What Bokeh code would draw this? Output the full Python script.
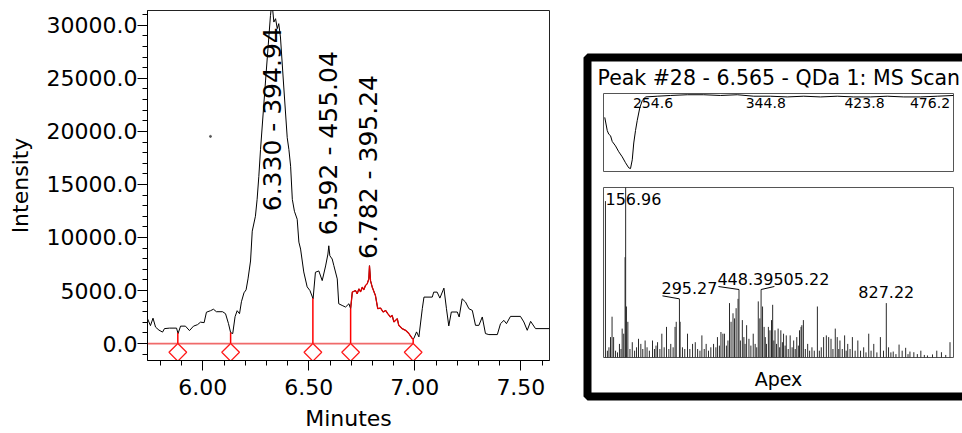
import math
import numpy as np
from bokeh.plotting import figure
from bokeh.models import Range1d, FixedTicker, NumeralTickFormatter, Label
from bokeh.embed import file_html
from bokeh.resources import INLINE
from bokeh.core.properties import value

FONT = "DejaVu Sans"

# ---------------- chromatogram data ----------------
time_min = [5.739, 5.753, 5.765, 5.777, 5.793, 5.810, 5.819, 5.843, 5.876, 5.883,
            5.895, 5.918, 5.937, 5.956, 5.975, 5.989, 6.006, 6.017, 6.036, 6.050,
            6.064, 6.093, 6.107, 6.121, 6.131, 6.141, 6.152, 6.162, 6.173, 6.182,
            6.194, 6.204, 6.213, 6.225, 6.233, 6.248, 6.256, 6.264, 6.272, 6.296,
            6.319, 6.326, 6.335, 6.343, 6.351, 6.358, 6.366, 6.382, 6.398, 6.406,
            6.414, 6.422, 6.432, 6.445, 6.453, 6.461, 6.476, 6.492, 6.505, 6.520,
            6.531, 6.547, 6.563, 6.579, 6.590, 6.594, 6.599, 6.610, 6.618, 6.634,
            6.641, 6.657, 6.673, 6.689, 6.697, 6.705, 6.720, 6.728, 6.736, 6.744,
            6.752, 6.759, 6.767, 6.775, 6.783, 6.786, 6.791, 6.799, 6.814, 6.825,
            6.838, 6.851, 6.862, 6.872, 6.885, 6.893, 6.901, 6.917, 6.924, 6.940,
            6.956, 6.972, 6.988, 6.995, 7.008, 7.019, 7.035, 7.043, 7.082, 7.089,
            7.105, 7.118, 7.137, 7.149, 7.160, 7.172, 7.200, 7.209, 7.223, 7.239,
            7.255, 7.271, 7.286, 7.302, 7.318, 7.333, 7.349, 7.389, 7.404, 7.420,
            7.432, 7.451, 7.498, 7.514, 7.530, 7.546, 7.569, 7.635]
intensity = [2344, 1688, 2391, 1547, 1266, 1078, 1406, 1453, 1453, 938,
             1641, 1641, 1219, 1641, 1781, 2016, 1969, 2953, 3094, 3234,
             3000, 3000, 2813, 1875, 1031, 938, 2531, 3094, 2813, 3938,
             4781, 5063, 6094, 7781, 10594, 12000, 13594, 15750, 18281, 24844,
             30938, 32200, 30309, 30628, 29691, 30159, 28903, 24094, 19406, 18281,
             16716, 13594, 12469, 11719, 9563, 8906, 6750, 5344, 4997, 4219,
             6722, 6844, 5934, 7313, 8438, 9216, 8278, 7969, 7341, 6094,
             3750, 3591, 3441, 3750, 3281, 4847, 4997, 4688, 5156, 4875,
             5316, 5063, 5466, 5625, 6094, 7341, 5906, 5316, 4528, 3281,
             3347, 2972, 3122, 2813, 2503, 2653, 2034, 2344, 1716, 1406,
             1247, 938, 469, 469, 1097, 628, 3281, 4378, 4378, 4847,
             4847, 4284, 5222, 3281, 1659, 2972, 2972, 2503, 4219, 3909,
             3281, 3122, 1716, 1716, 2503, 938, 844, 844, 1875, 2184,
             1875, 2559, 2559, 2034, 1247, 2091, 1406, 1406]
stray_time = [6.036]
stray_intensity = [19530]

boundary_time = [5.882, 6.131, 6.519, 6.697, 6.992]
selected_peak = [6.697, 6.992]
peak_time = [6.330, 6.592, 6.782]
peak_mz = ["394.94", "455.04", "395.24"]
peak_label_base = [12470, 10220, 7970]

x_major = [6.00, 6.50, 7.00, 7.50]
x_minor = [5.8, 5.9, 6.1, 6.2, 6.3, 6.4, 6.6, 6.7, 6.8, 6.9, 7.1, 7.2, 7.3, 7.4, 7.6]
y_major = [0, 5000, 10000, 15000, 20000, 25000, 30000]
y_minor = [-1000] + [v for v in range(1000, 31001, 1000) if v % 5000]
x_limits = [5.739, 7.635]
y_limits = [-1600, 31400]

# ---------------- spectrum panel data ----------------
panel_title = "Peak #28 - 6.565 - QDa 1: MS Scan"
uv_nm = [216.0, 218.0, 219.2, 220.6, 222.0, 224.6, 227.2, 230.0, 232.6, 235.2,
         236.6, 238.0, 239.2, 240.6, 242.0, 244.0, 246.0, 248.6, 258.0, 268.6,
         282.0, 295.2, 308.6, 322.0, 335.2, 348.6, 362.0, 375.2, 388.6, 402.0,
         415.2, 428.6, 442.0, 455.2, 468.6, 482.0, 494.8]
uv_abs = [-0.30, -0.48, -0.53, -0.55, -0.63, -0.69, -0.77, -0.84, -0.92, -0.99,
          -1.0, -0.88, -0.65, -0.48, -0.34, -0.17, -0.07, -0.02, -0.01, 0.0,
          0.01, 0.01, 0.0, 0.01, -0.01, -0.01, -0.02, -0.01, -0.02, -0.01,
          -0.02, -0.02, -0.01, -0.02, -0.02, -0.01, 0.0]
uv_labels = ["254.6", "344.8", "423.8", "476.2"]
uv_limits_nm = [215, 495]
uv_limits_abs = [-1.04, 0.027]

ms_mz = [105, 110, 114, 118, 122, 126, 131, 136, 141, 145,
         148, 152, 155.5, 156.96, 159, 162.6, 168, 174, 180, 185,
         190, 196, 201, 207, 212, 218, 226, 231, 235, 239,
         245, 250, 256, 262, 268, 273, 279, 284, 287, 295.27,
         297, 303, 309, 316, 322, 329, 336, 342, 348, 353,
         359, 364, 370, 376, 383, 389, 393, 398, 402, 407,
         411, 416, 420, 424, 428, 433, 437, 441, 446, 448.39,
         452, 457, 461, 464, 468, 474, 479, 485, 490, 494,
         498, 502, 505.22, 509, 513, 516, 519, 524, 528, 532,
         535, 538, 541, 545, 549, 553, 556, 560, 563, 567,
         570, 575, 580, 585, 589, 593, 597, 601, 604, 608,
         610, 614, 619, 625, 630, 636, 642, 650, 655, 660,
         666, 673, 679, 685, 690, 696, 701, 705, 708, 714,
         720, 724, 728, 734, 740, 747, 754, 761, 769, 775,
         782, 788, 795, 803, 812, 820, 827.22, 833, 839, 845,
         852, 860, 868, 877, 883, 888, 898, 907, 916, 925,
         933, 946, 957, 969, 980, 991]
ms_rel = [0.92, 0.04, 0.06, 0.12, 0.24, 0.12, 0.04, 0.03, 0.08, 0.05,
          0.17, 0.14, 0.59, 1.0, 0.30, 0.21, 0.05, 0.09, 0.04, 0.06,
          0.11, 0.08, 0.05, 0.10, 0.06, 0.04, 0.10, 0.05, 0.07, 0.09,
          0.05, 0.14, 0.06, 0.18, 0.05, 0.08, 0.06, 0.18, 0.21, 0.345,
          0.21, 0.06, 0.05, 0.14, 0.05, 0.08, 0.09, 0.05, 0.04, 0.13,
          0.05, 0.08, 0.04, 0.06, 0.08, 0.06, 0.12, 0.07, 0.15, 0.14,
          0.14, 0.07, 0.10, 0.32, 0.21, 0.26, 0.23, 0.29, 0.345, 0.40,
          0.10, 0.22, 0.12, 0.08, 0.19, 0.11, 0.07, 0.14, 0.08, 0.06,
          0.33, 0.23, 0.40, 0.30, 0.18, 0.12, 0.08, 0.18, 0.16, 0.22,
          0.31, 0.10, 0.16, 0.08, 0.17, 0.06, 0.16, 0.09, 0.14, 0.07,
          0.13, 0.05, 0.13, 0.06, 0.10, 0.05, 0.12, 0.07, 0.16, 0.18,
          0.19, 0.22, 0.05, 0.08, 0.04, 0.06, 0.04, 0.30, 0.04, 0.06,
          0.12, 0.13, 0.12, 0.11, 0.05, 0.17, 0.12, 0.05, 0.10, 0.05,
          0.13, 0.04, 0.08, 0.05, 0.12, 0.04, 0.10, 0.04, 0.06, 0.03,
          0.14, 0.04, 0.08, 0.03, 0.12, 0.04, 0.32, 0.06, 0.03, 0.035,
          0.02, 0.076, 0.04, 0.057, 0.02, 0.035, 0.031, 0.02, 0.04, 0.015,
          0.012, 0.018, 0.04, 0.031, 0.015, 0.09]
ms_labels = [156.96, 295.27, 448.39, 505.22, 827.22]
ms_limits_mz = [100, 1000]
ms_limits_rel = [0, 1]

# ---------------- layout constants (pixels) ----------------
W, H = 962, 433
LEFT_W = 575
PANEL_X0 = LEFT_W
BOX_L, BOX_R = 603, 953
UV_TOP, UV_BOT = 93, 171
MS_TOP, MS_BOT = 187, 357

# ================= main chromatogram =================
p = figure(width=LEFT_W, height=H, x_range=Range1d(*x_limits), y_range=Range1d(*y_limits),
           output_backend="svg", toolbar_location=None,
           min_border_left=147, min_border_right=26, min_border_top=10, min_border_bottom=71)
p.styles = {"position": "absolute", "left": "0px", "top": "0px"}
p.xgrid.visible = False
p.ygrid.visible = False
p.outline_line_color = "#222222"
p.outline_line_width = 1
p.border_fill_color = "white"
p.background_fill_color = "white"

for ax in (p.xaxis[0], p.yaxis[0]):
    ax.major_tick_out = 10
    ax.major_tick_in = 0
    ax.minor_tick_out = 5
    ax.minor_tick_in = 0
    ax.axis_line_color = "black"
    ax.major_tick_line_color = "black"
    ax.minor_tick_line_color = "black"
    ax.major_label_text_font = FONT
    ax.major_label_text_font_size = "22px"
    ax.major_label_text_color = "black"
    ax.axis_label_text_font = FONT
    ax.axis_label_text_font_size = "22px"
    ax.axis_label_text_font_style = "normal"
    ax.axis_label_text_color = "black"

p.xaxis.ticker = FixedTicker(ticks=x_major, minor_ticks=x_minor)
p.yaxis.ticker = FixedTicker(ticks=y_major, minor_ticks=y_minor)
p.xaxis.formatter = NumeralTickFormatter(format="0.00")
p.yaxis.formatter = NumeralTickFormatter(format="0.0")
p.xaxis.axis_label = "Minutes"
p.yaxis.axis_label = "Intensity"
p.xaxis.major_label_standoff = 8
p.xaxis.axis_label_standoff = 8
p.yaxis.major_label_standoff = 0
p.yaxis.axis_label_standoff = 11

t_arr = np.array(time_min, dtype=float)
i_arr = np.array(intensity, dtype=float)

# baseline of integration
p.line([x_limits[0], boundary_time[-1]], [0, 0], line_color="#f06a6a", line_width=1.8)

# trace
p.line(time_min, intensity, line_color="black", line_width=1)
p.scatter(stray_time, stray_intensity, size=2, color="#555555")

# selected (integrated) peak in red
lo, hi = selected_peak
mask = (t_arr > lo) & (t_arr < hi)
red_t = [lo] + list(t_arr[mask]) + [hi]
red_i = [float(np.interp(lo, t_arr, i_arr))] + list(i_arr[mask]) + [float(np.interp(hi, t_arr, i_arr))]
p.line(red_t, red_i, line_color="#e00000", line_width=1.3)

# peak boundaries
b_heights = np.interp(boundary_time, t_arr, i_arr)
p.segment(x0=boundary_time, y0=[0] * len(boundary_time), x1=boundary_time, y1=list(b_heights),
          line_color="#ff0000", line_width=1.5)
frame_h = H - 10 - 71
y_per_px = (y_limits[1] - y_limits[0]) / frame_h
marker_y = -8.8 * y_per_px
p.scatter(boundary_time, [marker_y] * len(boundary_time), marker="square", angle=math.pi / 4,
          size=12.5, line_color="#ff1a1a", fill_color="white", line_width=1.3)

# peak labels
p.text(x=peak_time, y=peak_label_base,
       text=[f"{t:.3f} - {m}" for t, m in zip(peak_time, peak_mz)],
       angle=math.pi / 2, text_align="left", text_baseline="middle",
       text_font=value(FONT), text_font_size="25px", text_color="black")

# ================= spectrum panel =================
rp = figure(width=W - LEFT_W, height=H, x_range=Range1d(PANEL_X0, W), y_range=Range1d(H, 0),
            output_backend="svg", toolbar_location=None, min_border=0,
            x_axis_type=None, y_axis_type=None)
rp.styles = {"position": "absolute", "left": f"{LEFT_W}px", "top": "0px"}
rp.outline_line_color = None
rp.border_fill_color = "white"
rp.background_fill_color = "white"


def lin_range(px0, px1, d0, d1, f_start, f_end):
    k = (d1 - d0) / (px1 - px0)
    return Range1d(start=d0 + (f_start - px0) * k, end=d0 + (f_end - px0) * k)


rp.extra_x_ranges = {
    "nm": lin_range(BOX_L, BOX_R, uv_limits_nm[0], uv_limits_nm[1], PANEL_X0, W),
    "mz": lin_range(BOX_L, BOX_R, ms_limits_mz[0], ms_limits_mz[1], PANEL_X0, W),
}
rp.extra_y_ranges = {
    "uv": lin_range(UV_BOT, UV_TOP, uv_limits_abs[0], uv_limits_abs[1], H, 0),
    "ms": lin_range(MS_BOT, MS_TOP, ms_limits_rel[0], ms_limits_rel[1], H, 0),
}

# thick black frame
rp.quad(left=[587], right=[1000], top=[57], bottom=[396], fill_color=None,
        line_color="black", line_width=8)
# inner boxes
rp.quad(left=[BOX_L, BOX_L], right=[BOX_R, BOX_R], top=[UV_TOP, MS_TOP], bottom=[UV_BOT, MS_BOT],
        fill_color=None, line_color="#555555", line_width=1)

# UV spectrum
abs_per_px = (uv_limits_abs[1] - uv_limits_abs[0]) / (UV_BOT - UV_TOP)
rp.line(uv_nm, uv_abs, x_range_name="nm", y_range_name="uv", line_color="black", line_width=1)
rp.text(x=[float(s) for s in uv_labels], y=[uv_limits_abs[1] - 4 * abs_per_px] * len(uv_labels),
        text=uv_labels, x_range_name="nm", y_range_name="uv", text_align="center",
        text_baseline="top", text_font=value(FONT), text_font_size="14px", text_color="black")

# MS spectrum
rp.segment(x0=ms_mz, y0=[0] * len(ms_mz), x1=ms_mz, y1=ms_rel,
           x_range_name="mz", y_range_name="ms", line_color="#2a2a2a", line_width=1)

MS_FS = 16
px_per_mz = (BOX_R - BOX_L) / (ms_limits_mz[1] - ms_limits_mz[0])
rel_per_px = (ms_limits_rel[1] - ms_limits_rel[0]) / (MS_BOT - MS_TOP)
rel_lookup = dict(zip(ms_mz, ms_rel))


def text_w(s, fs):
    return fs * sum(0.636 if ch.isdigit() else 0.318 for ch in s)


lab_x, lab_y, lab_t = [], [], []
lead_x0, lead_y0, lead_x1, lead_y1 = [], [], [], []
prev_right = -1e9
for mz in ms_labels:
    s = f"{mz:.2f}"
    w = text_w(s, MS_FS)
    cx = BOX_L + (mz - ms_limits_mz[0]) * px_per_mz
    left = max(cx - w / 2, BOX_L + 2)
    shifted = False
    if left < prev_right:
        left = prev_right
        shifted = True
    prev_right = left + w
    rel = rel_lookup[mz]
    y = min(rel + 11 * rel_per_px, 1 - 11 * rel_per_px)
    lab_x.append(ms_limits_mz[0] + (left + w / 2 - BOX_L) / px_per_mz)
    lab_y.append(y)
    lab_t.append(s)
    if shifted:
        lead_x0.append(mz)
        lead_y0.append(rel)
        lead_x1.append(ms_limits_mz[0] + (left + 1 - BOX_L) / px_per_mz)
        lead_y1.append(rel + 3 * rel_per_px)

rp.text(x=lab_x, y=lab_y, text=lab_t, x_range_name="mz", y_range_name="ms",
        text_align="center", text_baseline="alphabetic",
        text_font=value(FONT), text_font_size=f"{MS_FS}px", text_color="black")
if lead_x0:
    rp.segment(x0=lead_x0, y0=lead_y0, x1=lead_x1, y1=lead_y1, x_range_name="mz",
               y_range_name="ms", line_color="black", line_width=1)

rp.add_layout(Label(x=597, y=77, text=panel_title, text_align="left", text_baseline="alphabetic",
                    text_font=FONT, text_font_size="20.5px", text_color="black"))
rp.add_layout(Label(x=(BOX_L + BOX_R) / 2, y=378, text="Apex", text_align="center",
                    text_baseline="alphabetic", text_font=FONT, text_font_size="19px",
                    text_color="black"))

open("out.html", "w").write(file_html([p, rp], INLINE))
